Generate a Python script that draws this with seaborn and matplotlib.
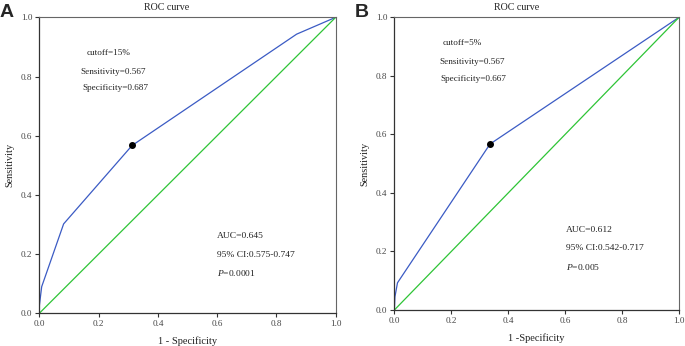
import seaborn as sns
import matplotlib.pyplot as plt
import pandas as pd

# Panel A ROC curve
fpr_a = [0.0, 0.0, 0.008, 0.082, 0.313, 0.868, 1.0]
tpr_a = [0.0, 0.05, 0.09, 0.302, 0.567, 0.943, 1.0]
cut_a = (0.313, 0.567)
info_a = ["cutoff=15%", "Sensitivity=0.567", "Specificity=0.687"]
stats_a = ["AUC=0.645", "95% CI:0.575-0.747", "0.0001"]

# Panel B ROC curve
fpr_b = [0.0, 0.002, 0.011, 0.336, 1.0]
tpr_b = [0.0, 0.045, 0.093, 0.567, 1.0]
cut_b = (0.336, 0.567)
info_b = ["cutoff=5%", "Sensitivity=0.567", "Specificity=0.667"]
stats_b = ["AUC=0.612", "95% CI:0.542-0.717", "0.005"]

ticks = [0.0, 0.2, 0.4, 0.6, 0.8, 1.0]

sns.set_style("white")
plt.rcParams['font.family'] = ['Liberation Serif', 'DejaVu Serif']
plt.rcParams['mathtext.fontset'] = 'custom'
plt.rcParams['mathtext.it'] = 'Liberation Serif:italic'
plt.rcParams['mathtext.rm'] = 'Liberation Serif'

fig = plt.figure(figsize=(6.85, 3.46), dpi=100)
ax_a = fig.add_axes([0.0574, 0.0945, 0.4327, 0.8555])
ax_b = fig.add_axes([0.5757, 0.104, 0.4156, 0.846])


def draw(ax, fpr, tpr, cut, info, stats, info_pos, stats_pos, xlabel, letter):
    df = pd.DataFrame({"fpr": fpr, "tpr": tpr})
    sns.lineplot(data=df, x="fpr", y="tpr", sort=False, color="#3b5bc4",
                 linewidth=0.9, ax=ax)
    ref = pd.DataFrame({"x": [0.0, 1.0], "y": [0.0, 1.0]})
    sns.lineplot(data=ref, x="x", y="y", color="#2ec436", linewidth=0.9, ax=ax)
    ax.scatter([cut[0]], [cut[1]], color="black", s=16, zorder=5)

    ax.set_xlim(0, 1)
    ax.set_ylim(0, 1)
    ax.set_xticks(ticks)
    ax.set_yticks(ticks)
    ax.set_xticklabels([f"{t:.1f}" for t in ticks])
    ax.set_yticklabels([f"{t:.1f}" for t in ticks])
    ax.tick_params(axis="both", direction="out", length=3, width=0.8,
                   labelsize=6.6, colors="#333333", labelcolor="#444444",
                   bottom=True, left=True, pad=2)
    for s in ["left", "bottom"]:
        ax.spines[s].set_color("#333333")
        ax.spines[s].set_linewidth(0.9)
    for s in ["top", "right"]:
        ax.spines[s].set_color("#666666")
        ax.spines[s].set_linewidth(0.8)

    # title sits left of centre in the original
    ax.set_title("ROC curve", fontsize=7.2, color="#222222", pad=5, x=0.43)
    ax.set_xlabel(xlabel, fontsize=7.5, color="#222222", labelpad=6)
    ax.set_ylabel("Sensitivity", fontsize=7.4, color="#222222", labelpad=5)

    for txt, (x, y) in zip(info, info_pos):
        ax.text(x, y, txt, ha="center", va="center", fontsize=6.6, color="#222222")
    sx, sy = stats_pos
    ax.text(sx, sy[0], stats[0], ha="left", va="center", fontsize=6.8, color="#222222")
    ax.text(sx, sy[1], stats[1], ha="left", va="center", fontsize=6.8, color="#222222")
    ax.text(sx, sy[2], "$P$=" + stats[2], ha="left", va="center",
            fontsize=6.8, color="#222222")

    fig.text(ax.get_position().x0 - 0.0574 + 0.0, 0.988, letter,
             family="Liberation Sans", fontweight="bold", fontsize=14,
             ha="left", va="top")


draw(ax_a, fpr_a, tpr_a, cut_a, info_a, stats_a,
     [(0.235, 0.878), (0.25, 0.816), (0.255, 0.76)],
     (0.60, [0.261, 0.197, 0.135]), "1 - Specificity", "A")
draw(ax_b, fpr_b, tpr_b, cut_b, info_b, stats_b,
     [(0.239, 0.911), (0.274, 0.849), (0.278, 0.789)],
     (0.603, [0.273, 0.211, 0.148]), "1 -Specificity", "B")

fig.savefig("out.png", dpi=100)
